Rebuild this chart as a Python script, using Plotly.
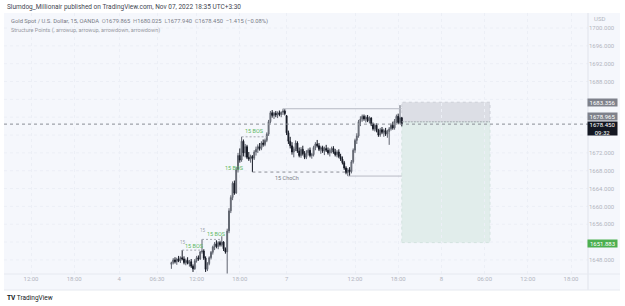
import plotly.graph_objects as go

# ---------------- data ----------------
bar_index = list(range(93, 222))  # 15-minute bar slots (trading time)

opens = [
    1647.0, 1647.4, 1648.0, 1647.6, 1648.2, 1647.8, 1648.5, 1648.2, 1647.4, 1647.9,
    1647.2, 1647.6, 1646.6, 1646.0, 1647.8, 1648.5, 1648.2, 1649.8, 1650.0, 1648.4,
    1645.9, 1647.2, 1648.5, 1649.7, 1650.9, 1651.6, 1651.0, 1651.9, 1651.4, 1652.0,
    1650.5, 1649.8, 1654.5, 1659.0, 1662.0, 1665.2, 1663.0, 1668.2, 1671.4, 1670.4,
    1674.6, 1672.0, 1673.4, 1671.0, 1670.6, 1671.2, 1670.8, 1672.2, 1672.8, 1673.4,
    1673.0, 1674.2, 1673.9, 1674.8, 1676.2, 1679.0, 1681.0, 1680.4, 1680.9, 1680.5,
    1681.0, 1680.6, 1681.1, 1681.4, 1680.3, 1676.5, 1674.6, 1673.6, 1672.2, 1672.9,
    1674.2, 1672.4, 1671.4, 1672.8, 1671.8, 1671.0, 1672.0, 1672.6, 1671.4, 1671.6,
    1673.2, 1674.0, 1673.6, 1672.8, 1673.2, 1672.4, 1673.0, 1672.6, 1672.0, 1672.6,
    1673.0, 1672.2, 1671.6, 1672.2, 1671.2, 1670.6, 1669.8, 1668.6, 1667.6, 1668.2,
    1667.8, 1670.0, 1672.6, 1674.8, 1675.8, 1679.0, 1679.6, 1680.2, 1679.6, 1680.0,
    1679.2, 1679.8, 1678.4, 1677.4, 1678.2, 1677.0, 1676.0, 1677.2, 1676.6, 1677.0,
    1676.2, 1676.8, 1677.4, 1678.2, 1677.6, 1679.2, 1680.2, 1678.8, 1679.865,
]
highs = [
    1647.6, 1648.4, 1648.6, 1648.5, 1648.9, 1648.8, 1650.2, 1648.8, 1648.3, 1648.6,
    1648.0, 1648.2, 1647.0, 1648.2, 1648.9, 1649.0, 1650.0, 1652.6, 1650.4, 1648.8,
    1647.5, 1648.8, 1650.0, 1651.2, 1652.0, 1652.4, 1652.2, 1652.3, 1653.3, 1652.2,
    1650.8, 1655.0, 1659.6, 1662.5, 1665.6, 1665.8, 1668.8, 1672.0, 1673.0, 1675.6,
    1675.0, 1674.0, 1673.8, 1672.2, 1671.6, 1671.5, 1672.6, 1673.4, 1673.9, 1674.2,
    1674.6, 1675.0, 1675.2, 1676.6, 1679.4, 1681.4, 1681.6, 1681.2, 1681.4, 1681.3,
    1681.5, 1681.3, 1681.9, 1681.8, 1680.5, 1677.0, 1675.6, 1674.4, 1673.4, 1674.8,
    1674.6, 1673.2, 1673.3, 1673.6, 1672.4, 1672.6, 1673.0, 1673.2, 1672.0, 1673.6,
    1674.4, 1674.9, 1674.2, 1673.6, 1673.6, 1673.4, 1673.8, 1673.2, 1673.0, 1673.4,
    1673.5, 1672.9, 1672.6, 1672.8, 1671.8, 1671.2, 1670.2, 1669.0, 1668.6, 1668.8,
    1670.4, 1673.0, 1675.2, 1676.4, 1679.4, 1680.2, 1680.6, 1680.6, 1680.4, 1680.5,
    1680.2, 1680.0, 1678.8, 1678.6, 1678.6, 1677.4, 1677.6, 1677.8, 1677.4, 1677.6,
    1677.2, 1677.8, 1678.6, 1679.0, 1679.6, 1680.6, 1680.8, 1682.7, 1680.025,
]
lows = [
    1646.0, 1647.0, 1647.2, 1646.9, 1647.5, 1647.3, 1647.9, 1647.0, 1646.8, 1647.0,
    1646.5, 1646.2, 1645.3, 1645.8, 1647.4, 1647.8, 1648.0, 1649.4, 1648.0, 1645.3,
    1645.5, 1646.8, 1648.1, 1649.2, 1650.2, 1650.6, 1650.4, 1651.0, 1651.0, 1650.0,
    1649.4, 1644.5, 1654.0, 1658.5, 1661.4, 1662.6, 1662.8, 1667.6, 1669.8, 1670.0,
    1671.2, 1671.0, 1670.6, 1670.2, 1669.8, 1667.7, 1670.4, 1671.4, 1672.0, 1672.5,
    1672.6, 1673.4, 1673.5, 1674.4, 1675.8, 1678.6, 1679.9, 1679.6, 1680.0, 1679.8,
    1680.2, 1680.0, 1680.5, 1680.4, 1676.0, 1674.0, 1673.0, 1671.6, 1671.0, 1672.4,
    1672.0, 1671.0, 1670.9, 1671.4, 1670.6, 1670.6, 1671.4, 1671.0, 1670.7, 1671.2,
    1672.6, 1673.2, 1672.4, 1671.8, 1672.0, 1671.5, 1672.2, 1671.6, 1671.2, 1671.9,
    1671.8, 1671.2, 1671.0, 1670.8, 1670.2, 1669.4, 1668.2, 1667.2, 1666.8, 1666.8,
    1667.4, 1669.6, 1672.0, 1674.0, 1675.4, 1678.0, 1679.0, 1679.2, 1678.8, 1678.9,
    1678.6, 1678.0, 1677.0, 1676.8, 1676.6, 1675.6, 1675.6, 1676.2, 1675.6, 1675.8,
    1675.4, 1673.8, 1677.0, 1677.2, 1677.2, 1678.6, 1678.4, 1678.4, 1677.94,
]
closes = [
    1647.4, 1648.0, 1647.6, 1648.2, 1647.8, 1648.5, 1648.2, 1647.4, 1647.9, 1647.2,
    1647.6, 1646.6, 1646.0, 1647.8, 1648.5, 1648.2, 1649.8, 1650.0, 1648.4, 1645.9,
    1647.2, 1648.5, 1649.7, 1650.9, 1651.6, 1651.0, 1651.9, 1651.4, 1652.0, 1650.5,
    1649.8, 1654.5, 1659.0, 1662.0, 1665.2, 1663.0, 1668.2, 1671.4, 1670.4, 1674.6,
    1672.0, 1673.4, 1671.0, 1670.6, 1671.2, 1670.8, 1672.2, 1672.8, 1673.4, 1673.0,
    1674.2, 1673.9, 1674.8, 1676.2, 1679.0, 1681.0, 1680.4, 1680.9, 1680.5, 1681.0,
    1680.6, 1681.1, 1681.4, 1680.8, 1676.5, 1674.6, 1673.6, 1672.2, 1672.9, 1674.2,
    1672.4, 1671.4, 1672.8, 1671.8, 1671.0, 1672.0, 1672.6, 1671.4, 1671.6, 1673.2,
    1674.0, 1673.6, 1672.8, 1673.2, 1672.4, 1673.0, 1672.6, 1672.0, 1672.6, 1673.0,
    1672.2, 1671.6, 1672.2, 1671.2, 1670.6, 1669.8, 1668.6, 1667.6, 1668.2, 1667.8,
    1670.0, 1672.6, 1674.8, 1675.8, 1679.0, 1679.6, 1680.2, 1679.6, 1680.0, 1679.2,
    1679.8, 1678.4, 1677.4, 1678.2, 1677.0, 1676.0, 1677.2, 1676.6, 1677.0, 1676.2,
    1676.8, 1677.4, 1678.2, 1677.6, 1679.2, 1680.2, 1678.8, 1679.9, 1678.45,
]

time_tick_pos = [15, 39, 64, 85, 107, 131, 157, 195, 219, 243, 267, 291, 315]
time_tick_text = ["12:00", "18:00", "4", "06:30", "12:00", "18:00", "7",
                  "12:00", "18:00", "8", "06:00", "12:00", "18:00"]
# price scale ticks that are visible (others are hidden under price labels)
price_ticks = [1648, 1656, 1660, 1664, 1668, 1672, 1688, 1692, 1696, 1700]
price_tick_text = [f"{v}.000" for v in price_ticks]
grid_prices = [1648, 1652, 1656, 1660, 1664, 1668, 1672, 1676, 1680, 1684,
               1688, 1692, 1696, 1700]

last_price = 1678.450
entry_price = 1678.965
stop_price = 1683.356
target_price = 1651.883
pos_start, pos_end = 221, 270

bos_levels = [
    (99, 110, 1650.2),
    (110, 121, 1652.6),
    (132, 146, 1675.6),
]
choch_level = (138, 190, 1667.7)
swing_high_line = (155, 221, 1681.9)
swing_low_line = (191, 221, 1666.8)
bos_labels = [(106.1, 1651.2), (117.8, 1653.9), (128.0, 1668.5), (139.4, 1676.8)]
choch_label = (157.2, 1666.4)
swing_labels = [(99.4, 1652.0), (110.6, 1654.6)]

# ---------------- figure ----------------
W, H = 625, 306
L, R, T, B = 4, 588, 13, 274
PPB = 1.8
X_RANGE = [0, (R - L) / PPB]
PX_PER_UNIT = 4.46
Y_RANGE = [1700 - (B - 28) / PX_PER_UNIT, 1700 + (28 - T) / PX_PER_UNIT]


def pxx(p):
    return (p - L) / (R - L)


def pxy(p):
    return (B - p) / (B - T)


FONT = "Roboto, Open Sans, sans-serif"

fig = go.Figure()
fig.add_trace(go.Candlestick(
    x=bar_index, open=opens, high=highs, low=lows, close=closes,
    increasing=dict(line=dict(color="#5F636E", width=1), fillcolor="#9DA0A9"),
    decreasing=dict(line=dict(color="#131722", width=1), fillcolor="#131722"),
    whiskerwidth=0, hoverinfo="skip", showlegend=False,
))

shapes = []
shapes.append(dict(type="rect", xref="paper", yref="paper",
                   x0=pxx(4), x1=pxx(620), y0=pxy(290), y1=pxy(13),
                   fillcolor="#F5F7FC", line=dict(width=0), layer="below"))
for gp in grid_prices:
    shapes.append(dict(type="line", xref="paper", yref="y", x0=0, x1=1, y0=gp, y1=gp,
                       line=dict(color="#ECEFF6", width=1, dash="dot"), layer="below"))
shapes.append(dict(type="line", xref="paper", yref="paper",
                   x0=1, x1=1, y0=pxy(290), y1=pxy(13),
                   line=dict(color="#E0E3EB", width=1)))
shapes.append(dict(type="line", xref="paper", yref="paper",
                   x0=pxx(4), x1=pxx(620), y0=0, y1=0,
                   line=dict(color="#E6E9F0", width=1)))
shapes.append(dict(type="line", xref="paper", yref="paper",
                   x0=pxx(4), x1=pxx(620), y0=pxy(290), y1=pxy(290),
                   line=dict(color="#E6E9F0", width=1)))
# position tool
shapes.append(dict(type="rect", xref="x", yref="y", x0=pos_start, x1=pos_end,
                   y0=entry_price, y1=stop_price, fillcolor="#DCDEE5",
                   line=dict(color="#CDD0D8", width=1, dash="dot"), layer="below"))
shapes.append(dict(type="rect", xref="x", yref="y", x0=pos_start, x1=pos_end,
                   y0=target_price, y1=entry_price, fillcolor="#E1EDEB",
                   line=dict(color="#D3E3DF", width=1, dash="dot"), layer="below"))
shapes.append(dict(type="line", xref="x", yref="y", x0=pos_start, x1=pos_end,
                   y0=entry_price, y1=entry_price,
                   line=dict(color="#A3A6AF", width=1, dash="2px,1px")))
# current price line
shapes.append(dict(type="line", xref="paper", yref="y", x0=0, x1=1,
                   y0=last_price, y1=last_price,
                   line=dict(color="#8A8D96", width=1, dash="3px,3px")))
# structure lines
for x0, x1, lvl in bos_levels:
    shapes.append(dict(type="line", xref="x", yref="y", x0=x0, x1=x1, y0=lvl, y1=lvl,
                       line=dict(color="#A3A6AF", width=1, dash="2px,2px")))
shapes.append(dict(type="line", xref="x", yref="y", x0=choch_level[0], x1=choch_level[1],
                   y0=choch_level[2], y1=choch_level[2],
                   line=dict(color="#8A8D96", width=1, dash="3px,3px")))
for x0, x1, lvl in (swing_high_line, swing_low_line):
    shapes.append(dict(type="line", xref="x", yref="y", x0=x0, x1=x1, y0=lvl, y1=lvl,
                       line=dict(color="#B8BBC4", width=1)))

ann = []
ann.append(dict(xref="paper", yref="paper", x=pxx(5), y=pxy(7), xanchor="left",
                yanchor="middle", showarrow=False,
                text="Slumdog_Millionair published on TradingView.com, Nov 07, 2022 18:35 UTC+3:30",
                font=dict(family=FONT, size=6.5, color="#434651")))
ann.append(dict(xref="paper", yref="paper", x=pxx(9), y=pxy(22), xanchor="left",
                yanchor="middle", showarrow=False,
                text=("Gold Spot / U.S. Dollar, 15, OANDA  "
                      "<span style='color:#9598A1'>O</span>1679.865  "
                      "<span style='color:#9598A1'>H</span>1680.025  "
                      "<span style='color:#9598A1'>L</span>1677.940  "
                      "<span style='color:#9598A1'>C</span>1678.450  −1.415 (−0.08%)"),
                font=dict(family=FONT, size=5.8, color="#787B86")))
ann.append(dict(xref="paper", yref="paper", x=pxx(9), y=pxy(30), xanchor="left",
                yanchor="middle", showarrow=False,
                text="Structure Points (, arrowup, arrowup, arrowdown, arrowdown)",
                font=dict(family=FONT, size=5.5, color="#9598A1")))
ann.append(dict(xref="paper", yref="paper", x=pxx(592), y=pxy(19), xanchor="left",
                yanchor="middle", showarrow=False, text="USD",
                font=dict(family=FONT, size=6, color="#B2B5BE")))
for bx, by in bos_labels:
    ann.append(dict(xref="x", yref="y", x=bx, y=by, showarrow=False, text="15 BOS",
                    font=dict(family=FONT, size=5.5, color="#5DB862")))
ann.append(dict(xref="x", yref="y", x=choch_label[0], y=choch_label[1], showarrow=False,
                text="15 ChoCh", font=dict(family=FONT, size=5.5, color="#787B86")))
for sx, sy in swing_labels:
    ann.append(dict(xref="x", yref="y", x=sx, y=sy, showarrow=False, text="15",
                    font=dict(family=FONT, size=4.5, color="#A0A3AC")))


def price_box(price, bg, text, yshift=0, h=7):
    return dict(xref="paper", yref="y", x=pxx(587), y=price, xanchor="left",
                yanchor="middle", yshift=yshift, showarrow=False, text=text,
                bgcolor=bg, width=29, height=h, borderpad=0, align="center",
                font=dict(family=FONT, size=6, color="#FFFFFF"))


ann.append(price_box(stop_price, "#7E818B", f"{stop_price:.3f}"))
ann.append(price_box(entry_price, "#7E818B", f"{entry_price:.3f}", yshift=5))
ann.append(price_box(last_price, "#131722", f"{last_price:.3f}<br>09:32", yshift=-4, h=13))
ann.append(price_box(target_price, "#4CAF50", f"{target_price:.3f}", yshift=-1))
ann.append(dict(xref="paper", yref="paper", x=pxx(5), y=pxy(298), xanchor="left",
                yanchor="middle", showarrow=False,
                text="<b>TV</b> TradingView",
                font=dict(family=FONT, size=6.5, color="#131722")))

fig.update_layout(
    width=W, height=H,
    margin=dict(l=L, r=W - R, t=T, b=H - B, pad=0),
    paper_bgcolor="#FFFFFF", plot_bgcolor="rgba(0,0,0,0)",
    shapes=shapes, annotations=ann, showlegend=False,
    xaxis=dict(range=X_RANGE, tickvals=time_tick_pos, ticktext=time_tick_text,
               tickfont=dict(family=FONT, size=6, color="#B2B5BE"),
               showgrid=True, gridcolor="#ECEFF6", gridwidth=1, griddash="dot",
               zeroline=False, showline=False, ticks="", ticklen=0,
               rangeslider=dict(visible=False), fixedrange=True),
    yaxis=dict(range=Y_RANGE, side="right", tickvals=price_ticks, ticktext=price_tick_text,
               tickfont=dict(family=FONT, size=6, color="#B2B5BE"),
               showgrid=False, zeroline=False, showline=False, ticks="", fixedrange=True),
)

fig.write_html("out.html")
